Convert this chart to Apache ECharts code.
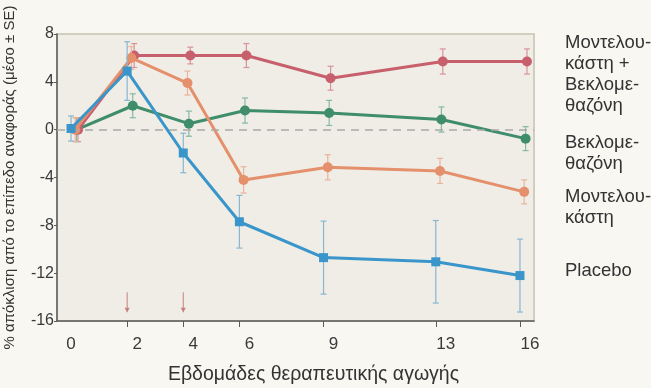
<!DOCTYPE html>
<html>
<head>
<meta charset="utf-8">
<script src="https://cdn.jsdelivr.net/npm/echarts@6/dist/echarts.min.js"></script>
<style>
  html, body { margin: 0; padding: 0; background: #f8f7f2; }
  #chart { width: 651px; height: 388px; }
</style>
</head>
<body>
<div id="chart"></div>
<script>
// Treatment weeks and tick labels
const weeks = [0, 2, 4, 6, 9, 13, 16];
const xTicks = [0, 2, 4, 6, 9, 13, 16];
const yTicks = [8, 4, 0, -4, -8, -12, -16];

// Mean % change from baseline per group
const comboMean   = [0, 6.2, 6.2, 6.2, 4.3, 5.7, 5.7];
const comboSE     = [1.0, 1.0, 0.7, 1.0, 1.0, 1.05, 1.05];
const beclMean    = [0, 2.0, 0.5, 1.6, 1.4, 0.85, -0.75];
const beclSE      = [1.0, 1.0, 1.05, 1.05, 1.05, 1.05, 1.0];
const monteMean   = [0, 6.0, 3.9, -4.2, -3.15, -3.45, -5.2];
const monteSE     = [1.0, 0.95, 1.0, 1.1, 1.05, 1.05, 1.0];
const placeboMean = [0.1, 4.9, -1.95, -7.7, -10.7, -11.05, -12.2];
const placeboSE   = [1.05, 2.45, 1.65, 2.2, 3.05, 3.45, 3.05];

// Weeks marked with arrows along the bottom of the plot
const arrowWeeks = [2, 4];

// Group labels shown at the right
const groupLabels = [
  'Μοντελου-\nκάστη +\nΒεκλομε-\nθαζόνη',
  'Βεκλομε-\nθαζόνη',
  'Μοντελου-\nκάστη',
  'Placebo'
];

const groups = [
  { name: groupLabels[0], mean: comboMean,   se: comboSE,     color: '#c75f6c', bar: '#d9939a', symbol: 'circle', size: 10, shift: 0.25, z: 3 },
  { name: groupLabels[1], mean: beclMean,    se: beclSE,      color: '#3f8d6b', bar: '#86b9a2', symbol: 'circle', size: 10, shift: 0.2,  z: 2 },
  { name: groupLabels[2], mean: monteMean,   se: monteSE,     color: '#e5906c', bar: '#eab39b', symbol: 'circle', size: 10, shift: 0.15, z: 4 },
  { name: groupLabels[3], mean: placeboMean, se: placeboSE,   color: '#3a96ca', bar: '#86b7d3', symbol: 'rect',   size: 9,  shift: 0,    z: 5 }
];

const FONT = 'Liberation Sans, Arial, sans-serif';
const chart = echarts.init(document.getElementById('chart'), null, { renderer: 'canvas' });

const series = [];

groups.forEach(function (g) {
  const pts = weeks.map(function (w, i) { return [w + g.shift, g.mean[i]]; });
  const bars = weeks.map(function (w, i) { return [w + g.shift, g.mean[i], g.se[i]]; });
  series.push({
    type: 'custom',
    name: g.name + '_se',
    z: g.z,
    silent: true,
    renderItem: function (params, api) {
      const x = api.value(0), m = api.value(1), s = api.value(2);
      const top = api.coord([x, m + s]);
      const bot = api.coord([x, m - s]);
      const cap = 3;
      const style = { stroke: g.bar, lineWidth: 1.2 };
      return {
        type: 'group',
        children: [
          { type: 'line', shape: { x1: top[0], y1: top[1], x2: bot[0], y2: bot[1] }, style: style },
          { type: 'line', shape: { x1: top[0] - cap, y1: top[1], x2: top[0] + cap, y2: top[1] }, style: style },
          { type: 'line', shape: { x1: bot[0] - cap, y1: bot[1], x2: bot[0] + cap, y2: bot[1] }, style: style }
        ]
      };
    },
    data: bars
  });
  series.push({
    type: 'line',
    name: g.name,
    z: g.z,
    data: pts,
    symbol: g.symbol,
    symbolSize: g.size,
    showSymbol: true,
    lineStyle: { color: g.color, width: 3 },
    itemStyle: { color: g.color },
    animation: false
  });
});

// Zero reference line
series.push({
  type: 'line',
  data: [],
  markLine: {
    silent: true,
    symbol: 'none',
    label: { show: false },
    lineStyle: { color: '#a9a9a6', type: [8, 6], width: 1.5 },
    data: [{ yAxis: 0 }]
  },
  z: 1
});

// Down arrows at the marked weeks
series.push({
  type: 'custom',
  silent: true,
  z: 2,
  renderItem: function (params, api) {
    const w = api.value(0);
    const a = api.coord([w, -13.6]);
    const b = api.coord([w, -15.3]);
    return {
      type: 'group',
      children: [
        { type: 'line', shape: { x1: a[0], y1: a[1], x2: b[0], y2: b[1] - 3 }, style: { stroke: '#c6827a', lineWidth: 1 } },
        { type: 'polygon', shape: { points: [[b[0] - 2.5, b[1] - 5], [b[0] + 2.5, b[1] - 5], [b[0], b[1]]] }, style: { fill: '#c6827a' } }
      ]
    };
  },
  data: arrowWeeks.map(function (w) { return [w]; })
});

// Group labels at the right side
const labelTops = [32, 132, 186, 260];
const graphics = groupLabels.map(function (t, i) {
  return {
    type: 'text',
    left: 565,
    top: labelTops[i],
    style: { text: t, fontSize: 18.5, lineHeight: 21, fill: '#333', fontFamily: FONT }
  };
});

chart.setOption({
  backgroundColor: '#f8f7f2',
  animation: false,
  textStyle: { fontFamily: FONT },
  grid: {
    left: 57, right: 117, top: 34, bottom: 67,
    containLabel: false,
    outerBoundsMode: 'none',
    show: true,
    backgroundColor: '#efede6',
    borderColor: '#cfcebf',
    borderWidth: 2
  },
  xAxis: {
    type: 'value',
    min: -0.5, max: 16.5,
    name: 'Εβδομάδες θεραπευτικής αγωγής',
    nameLocation: 'middle',
    nameGap: 44,
    nameTextStyle: { fontSize: 19.5, color: '#333', padding: [0, 0, 0, 36] },
    splitLine: { show: false },
    axisLine: { show: true, onZero: false, lineStyle: { color: '#5a5a5a', width: 1.5 } },
    axisTick: { show: true, length: 6, lineStyle: { color: '#5a5a5a' }, customValues: xTicks.filter(function (v) { return v > 0; }) },
    axisLabel: {
      customValues: xTicks,
      margin: 15,
      fontSize: 17,
      color: '#3a3a3a',
      formatter: function (v) { return v === 0 ? '{z|' + v + '}' : '{n|' + v + '}'; },
      rich: { z: { fontSize: 17, color: '#3a3a3a' }, n: { fontSize: 17, color: '#3a3a3a', padding: [0, 0, 0, 20] } }
    }
  },
  yAxis: {
    type: 'value',
    min: -16, max: 8, interval: 4,
    name: '% απόκλιση από το επίπεδο αναφοράς (μέσο ± SE)',
    nameLocation: 'middle',
    nameGap: 40,
    nameTextStyle: { fontSize: 15, color: '#333' },
    splitLine: { show: false },
    axisLine: { show: true, onZero: false, lineStyle: { color: '#5a5a5a', width: 1.5 } },
    axisTick: { show: true, length: 3, inside: false, lineStyle: { color: '#5a5a5a' } },
    axisLabel: {
      customValues: yTicks,
      margin: 3,
      fontSize: 16,
      color: '#3a3a3a'
    }
  },
  graphic: graphics,
  series: series
});
</script>
</body>
</html>
